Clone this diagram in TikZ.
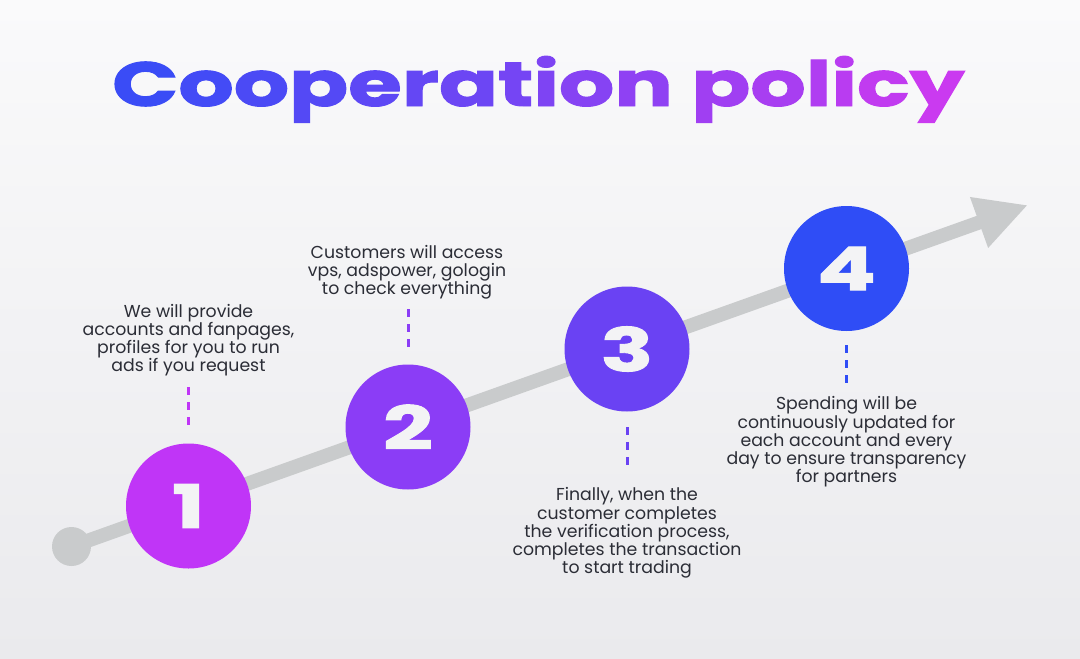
\documentclass[tikz,border=0pt]{standalone}
\usepackage{fontspec}
\setmainfont{Poppins}
\newfontfamily\titlefont{Poppins}[BoldFeatures={FakeBold=1.5}]
\usetikzlibrary{arrows.meta}
\definecolor{bgtop}{HTML}{FAFAFB}
\definecolor{bgbot}{HTML}{EAEAED}
\definecolor{linegray}{HTML}{C9CBCC}
\definecolor{txt}{HTML}{2B2D36}
\definecolor{cone}{HTML}{C035F7}
\definecolor{ctwo}{HTML}{8B3DF6}
\definecolor{cthree}{HTML}{6A42F3}
\definecolor{cfour}{HTML}{2F4DF6}
\definecolor{digw}{HTML}{F3F3F5}
\definecolor{tl}{RGB}{58,76,246}
\definecolor{tr}{RGB}{202,58,240}
\newcommand{\tc}[2]{\textcolor{tr!#1!tl}{#2}}
\newcommand{\dg}[1]{\scalebox{1.45}[1]{#1}}
\tikzset{
  stepcircle/.style={circle, minimum size=125pt, inner sep=0pt, text=digw,
    font=\titlefont\bfseries\fontsize{60}{60}\selectfont},
  desc/.style={text=txt, align=center, inner sep=0pt,
    font=\fontsize{17.3}{18.2}\selectfont},
  dashline/.style={line width=3pt, dash pattern=on 8pt off 7pt},
  track/.style={line width=14pt, draw=linegray},
}
\begin{document}
\begin{tikzpicture}[x=1pt,y=-1pt]
\useasboundingbox (0,0) rectangle (1080,659);
\shade[top color=bgtop, bottom color=bgbot] (0,0) rectangle (1080,659);

% title
\node[anchor=base west, inner sep=0pt] (title) at (112,106)
  {\resizebox{852pt}{50pt}{\titlefont\bfseries
   \tc{0}{C}\tc{6}{o}\tc{12}{o}\tc{18}{p}\tc{24}{e}\tc{29}{r}\tc{35}{a}\tc{41}{t}\tc{47}{i}\tc{53}{o}\tc{59}{n}\
   \tc{71}{p}\tc{76}{o}\tc{82}{l}\tc{88}{i}\tc{94}{c}\tc{100}{y}}};

% track
\node[circle, fill=linegray, minimum size=39pt, inner sep=0pt] (start) at (71.5,546.5) {};
\coordinate (tip) at (1028,205);
\draw[track, -{Triangle[length=52pt,width=50pt]}] (start.center) -- (tip);

% steps
\node[stepcircle, fill=cone]   (c1) at (188.5,506) {\dg{1}};
\node[stepcircle, fill=ctwo]   (c2) at (408,427)   {\dg{2}};
\node[stepcircle, fill=cthree] (c3) at (627,349)   {\dg{3}};
\node[stepcircle, fill=cfour]  (c4) at (846.5,268.5) {\dg{4}};

% descriptions
\node[desc] (t1) at (188.5,340) {We will provide\\accounts and fanpages,\\profiles for you to run\\ads if you request};
\node[desc] (t2) at (407,272) {Customers will access\\vps, adspower, gologin\\to check everything};
\node[desc] (t3) at (627,533) {Finally, when the\\customer completes\\the verification process,\\completes the transaction\\to start trading};
\node[desc] (t4) at (846.5,442) {Spending will be\\continuously updated for\\each account and every\\day to ensure transparency\\for partners};

% dashed connectors
\coordinate (d1a) at (188.5,387); \coordinate (d1b) at (188.5,425);
\coordinate (d2a) at (408,309);   \coordinate (d2b) at (408,348);
\coordinate (d3a) at (627,427);   \coordinate (d3b) at (627,469);
\coordinate (d4a) at (846.5,345); \coordinate (d4b) at (846.5,383);
\draw[dashline, draw=cone]   (d1a) -- (d1b);
\draw[dashline, draw=ctwo]   (d2a) -- (d2b);
\draw[dashline, draw=cthree] (d3a) -- (d3b);
\draw[dashline, draw=cfour]  (d4a) -- (d4b);
\end{tikzpicture}
\end{document}
